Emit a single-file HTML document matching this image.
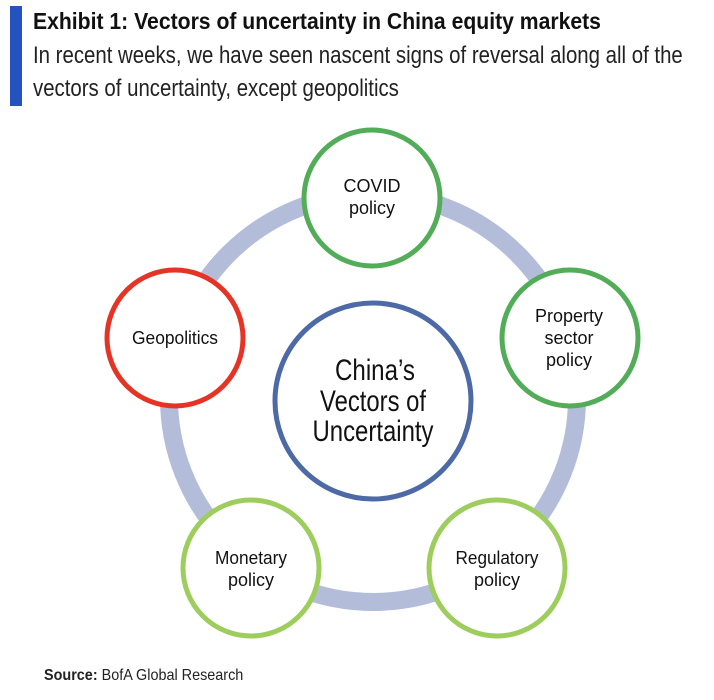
<!DOCTYPE html>
<html><head><meta charset="utf-8"><style>
body{margin:0;background:#fff;width:714px;height:700px;overflow:hidden;position:relative;font-family:"Liberation Sans",sans-serif}
.bar{position:absolute;left:10px;top:6px;width:12px;height:100px;background:#2453c0}
.t{position:absolute;left:33px;top:8px;font-weight:bold;font-size:23px;color:#111;white-space:nowrap;transform:scaleX(0.92);transform-origin:0 0}
.s{position:absolute;left:33px;top:39px;font-size:24px;line-height:33px;color:#222;white-space:nowrap;transform:scaleX(0.85);transform-origin:0 0}
.src{position:absolute;left:44px;top:667px;font-size:16px;color:#222;white-space:nowrap;transform:scaleX(0.9);transform-origin:0 0}
</style></head><body>
<div class="bar"></div>
<div class="t">Exhibit 1: Vectors of uncertainty in China equity markets</div>
<div class="s">In recent weeks, we have seen nascent signs of reversal along all of the<br>vectors of uncertainty, except geopolitics</div>
<svg width="714" height="700" style="position:absolute;left:0;top:0" font-family="Liberation Sans, sans-serif" text-anchor="middle">
<circle cx="373" cy="398" r="204" fill="none" stroke="#b3bdd9" stroke-width="18"/>
<circle cx="373" cy="401" r="98" fill="#fff" stroke="#4d6aa6" stroke-width="5"/>
<circle cx="372" cy="198" r="68" fill="#fff" stroke="#52ac58" stroke-width="5"/>
<circle cx="570" cy="338" r="68" fill="#fff" stroke="#52ac58" stroke-width="5"/>
<circle cx="175" cy="338" r="68" fill="#fff" stroke="#e53426" stroke-width="5"/>
<circle cx="251" cy="568" r="68" fill="#fff" stroke="#9dcd5c" stroke-width="5"/>
<circle cx="497" cy="568" r="68" fill="#fff" stroke="#9dcd5c" stroke-width="5"/>
<g font-size="18" fill="#111">
<text x="372" y="192">COVID</text><text x="372" y="214">policy</text>
<text x="569" y="322">Property</text><text x="569" y="344">sector</text><text x="569" y="366">policy</text>
<text x="175" y="344" textLength="86" lengthAdjust="spacingAndGlyphs">Geopolitics</text>
<text x="251" y="564" textLength="72" lengthAdjust="spacingAndGlyphs">Monetary</text><text x="251" y="586">policy</text>
<text x="497" y="564" textLength="83" lengthAdjust="spacingAndGlyphs">Regulatory</text><text x="497" y="586">policy</text>
</g>
<g font-size="30" fill="#111">
<text x="375" y="380" textLength="80" lengthAdjust="spacingAndGlyphs">China’s</text>
<text x="373" y="411" textLength="106" lengthAdjust="spacingAndGlyphs">Vectors of</text>
<text x="373" y="441" textLength="121" lengthAdjust="spacingAndGlyphs">Uncertainty</text>
</g>
</svg>
<div class="src"><b>Source:</b> BofA Global Research</div>
</body></html>
